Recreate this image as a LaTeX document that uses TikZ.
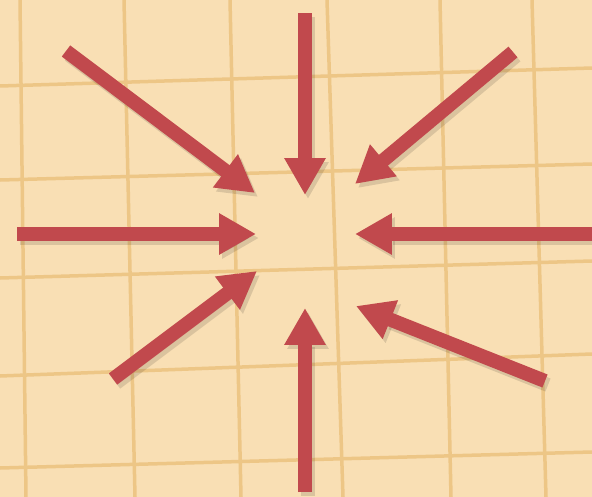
\documentclass[tikz,border=0pt]{standalone}
\usepackage{xcolor}
\usepackage{tikz}
\usetikzlibrary{arrows.meta}
\definecolor{papel}{RGB}{249,223,180}
\definecolor{linhagrade}{RGB}{237,198,134}
\definecolor{vermelho}{RGB}{193,73,77}

\begin{document}
\begin{tikzpicture}[
  x=0.02cm, y=-0.02cm,
  grade/.style={linhagrade, line width=0.07cm},
  seta/.style={-{Triangle[width=0.78cm, length=0.74cm]}, vermelho, line width=0.28cm},
  sombra/.style={-{Triangle[width=0.78cm, length=0.74cm]}, black, opacity=0.12,
                 line width=0.28cm, transform canvas={xshift=0.06cm, yshift=-0.08cm}}
]

\fill[papel] (0,0) rectangle (592,497);
\useasboundingbox (0,0) rectangle (592,497);

% grade do papel
\draw[grade] (20,0)  -- (26,497);
\draw[grade] (124,0) -- (135,497);
\draw[grade] (230,0) -- (241,497);
\draw[grade] (327,0) -- (343,497);
\draw[grade] (440,0) -- (451,497);
\draw[grade] (532,0) -- (546,497);
\draw[grade] (0,86)  -- (592,68);
\draw[grade] (0,180) -- (592,164);
\draw[grade] (0,278) -- (592,261);
\draw[grade] (0,376) -- (592,354);
\draw[grade] (0,468) -- (592,452);

\coordinate (cauda-noroeste) at (66,51);
\coordinate (ponta-noroeste) at (255,193);
\coordinate (cauda-norte)    at (305,13);
\coordinate (ponta-norte)    at (305,195);
\coordinate (cauda-nordeste) at (513,52);
\coordinate (ponta-nordeste) at (355,184);
\coordinate (cauda-oeste)    at (17,234);
\coordinate (ponta-oeste)    at (256,234);
\coordinate (cauda-leste)    at (592,234);
\coordinate (ponta-leste)    at (355,234);
\coordinate (cauda-sudoeste) at (113,379);
\coordinate (ponta-sudoeste) at (257,271);
\coordinate (cauda-sul)      at (305,492);
\coordinate (ponta-sul)      at (305,308);
\coordinate (cauda-sudeste)  at (545,381);
\coordinate (ponta-sudeste)  at (356,306);

\foreach \d in {noroeste,norte,nordeste,oeste,leste,sudoeste,sul,sudeste} {
  \draw[sombra] (cauda-\d) -- (ponta-\d);
  \draw[seta]   (cauda-\d) -- (ponta-\d);
}

\end{tikzpicture}
\end{document}
